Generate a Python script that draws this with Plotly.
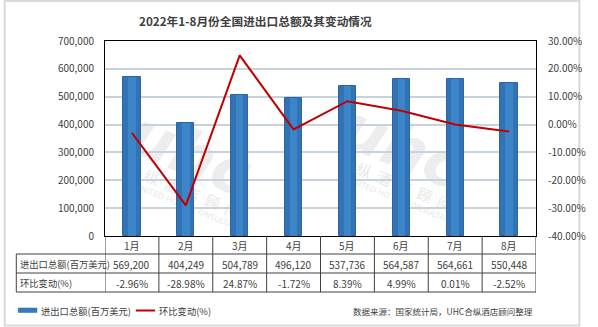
import plotly.graph_objects as go

# ---------------- data ----------------
months = ["1月", "2月", "3月", "4月", "5月", "6月", "7月", "8月"]
totals = [569200, 404249, 504789, 496120, 537736, 564587, 564661, 550448]
mom_pct = [-2.96, -28.98, 24.87, -1.72, 8.39, 4.99, 0.01, -2.52]
bar_name = "进出口总额(百万美元)"
line_name = "环比变动(%)"
title_text = "2022年1-8月份全国进出口总额及其变动情况"
source_text = "数据来源：国家统计局，UHC合纵酒店顾问整理"
left_ticks = [0, 100000, 200000, 300000, 400000, 500000, 600000, 700000]
left_labels = ["0", "100,000", "200,000", "300,000", "400,000", "500,000", "600,000", "700,000"]
right_ticks = [-40, -30, -20, -10, 0, 10, 20, 30]
right_labels = ["-40.00%", "-30.00%", "-20.00%", "-10.00%", "0.00%", "10.00%", "20.00%", "30.00%"]

# ---------------- layout helpers ----------------
W, H = 598, 327
L, R, T, B = 105, 46, 41, 91
PW, PH = W - L - R, H - T - B
FONT = "Noto Sans CJK SC, Noto Sans, sans-serif"
TXT = "#404040"


def px(x):
    return (x - L) / PW


def py(y):
    return (H - B - y) / PH


xs = list(range(len(months)))

fig = go.Figure()
fig.add_trace(go.Bar(
    x=xs, y=totals, name=bar_name, width=0.32,
    marker=dict(color="#3173B4", line=dict(color="#2C66A2", width=1)),
    showlegend=False, yaxis="y"))
fig.add_trace(go.Bar(
    x=xs, y=totals, name=bar_name, width=0.14,
    marker=dict(color="#3C85C8", line=dict(width=0)),
    showlegend=False, yaxis="y", hoverinfo="skip"))
fig.add_trace(go.Scatter(
    x=xs, y=mom_pct, name=line_name, mode="lines",
    line=dict(color="#C00000", width=2),
    showlegend=False, yaxis="y2"))

shapes = []
annotations = []

# title
annotations.append(dict(text="<b>" + title_text + "</b>", xref="paper", yref="paper",
                        x=px(261), y=py(21), xanchor="center", yanchor="middle",
                        showarrow=False, font=dict(family=FONT, size=11.7, color="#404040")))

# outer frame of the image
shapes.append(dict(type="rect", xref="paper", yref="paper",
                   x0=px(1), x1=px(597), y0=py(1), y1=py(325.5),
                   line=dict(color="#D9D9D9", width=2), fillcolor="rgba(0,0,0,0)", layer="below"))

# watermark (behind bars)
for cx, cy in [(195, 150), (415, 143)]:
    shapes.append(dict(type="rect", xref="paper", yref="paper",
                       x0=px(cx - 5), x1=px(cx + 5), y0=py(cy + 5), y1=py(cy - 5),
                       line=dict(width=0), fillcolor="rgba(0,0,0,0)", layer="below",
                       label=dict(text="<b><i>uhc</i></b>", textangle=22,
                                  font=dict(family="DejaVu Sans", size=62, color="#EDEDED"))))
    shapes.append(dict(type="rect", xref="paper", yref="paper",
                       x0=px(cx - 5), x1=px(cx + 5), y0=py(cy + 50), y1=py(cy + 40),
                       line=dict(width=0), fillcolor="rgba(0,0,0,0)", layer="below",
                       label=dict(text="纵  酒  店  顾  问", textangle=22,
                                  font=dict(family=FONT, size=15, color="#E8E8E8"))))
    shapes.append(dict(type="rect", xref="paper", yref="paper",
                       x0=px(cx - 5), x1=px(cx + 5), y0=py(cy + 63), y1=py(cy + 53),
                       line=dict(width=0), fillcolor="rgba(0,0,0,0)", layer="below",
                       label=dict(text="UNITED HOTEL CONSULTANCY", textangle=22,
                                  font=dict(family="DejaVu Sans", size=8, color="#E8E8E8"))))

# data table
tbl_left = px(13)
row_lines = [254, 273, 292]
LINE_C = "#404040"
for yy in row_lines:
    shapes.append(dict(type="line", xref="paper", yref="paper", x0=tbl_left, x1=1,
                       y0=py(yy), y1=py(yy), line=dict(color=LINE_C, width=1)))
shapes.append(dict(type="line", xref="paper", yref="paper", x0=tbl_left, x1=tbl_left,
                   y0=py(254), y1=py(292), line=dict(color=LINE_C, width=1)))
for i in range(len(months) + 1):
    shapes.append(dict(type="line", xref="x", yref="paper", x0=i - 0.5, x1=i - 0.5,
                       y0=0, y1=py(292), line=dict(color=LINE_C, width=1)))

num_font = dict(family=FONT, size=10, color=TXT)
cjk_font = dict(family=FONT, size=9.3, color=TXT)
src_font = dict(family=FONT, size=8.5, color=TXT)
for i, m in enumerate(months):
    annotations.append(dict(text=m, xref="x", yref="paper", x=i, y=py(245.5),
                            xanchor="center", yanchor="middle", showarrow=False, font=num_font))
    annotations.append(dict(text=f"{totals[i]:,}", xref="x", yref="paper", x=i, y=py(264),
                            xanchor="center", yanchor="middle", showarrow=False, font=num_font))
    annotations.append(dict(text=f"{mom_pct[i]:.2f}%", xref="x", yref="paper", x=i, y=py(283),
                            xanchor="center", yanchor="middle", showarrow=False, font=num_font))
annotations.append(dict(text=bar_name, xref="paper", yref="paper", x=px(14.5), y=py(264),
                        xanchor="left", yanchor="middle", showarrow=False, font=cjk_font))
annotations.append(dict(text=line_name, xref="paper", yref="paper", x=px(14.5), y=py(283),
                        xanchor="left", yanchor="middle", showarrow=False, font=cjk_font))

# legend (manual)
shapes.append(dict(type="rect", xref="paper", yref="paper", x0=px(15), x1=px(34.5),
                   y0=py(312.5), y1=py(308), line=dict(color="#2D68A4", width=0.5),
                   fillcolor="#3679BA"))
shapes.append(dict(type="line", xref="paper", yref="paper", x0=px(137), x1=px(157),
                   y0=py(310.5), y1=py(310.5), line=dict(color="#C00000", width=2)))
annotations.append(dict(text=bar_name, xref="paper", yref="paper", x=px(36.5), y=py(310.5),
                        xanchor="left", yanchor="middle", showarrow=False, font=cjk_font))
annotations.append(dict(text=line_name, xref="paper", yref="paper", x=px(159), y=py(310.5),
                        xanchor="left", yanchor="middle", showarrow=False, font=cjk_font))
annotations.append(dict(text=source_text, xref="paper", yref="paper", x=px(551), y=py(310.5),
                        xanchor="right", yanchor="middle", showarrow=False, font=src_font))

fig.update_layout(
    width=W, height=H,
    margin=dict(l=L, r=R, t=T, b=B, pad=0),
    paper_bgcolor="white", plot_bgcolor="white",
    barmode="overlay", bargap=0,
    font=dict(family=FONT, size=10, color=TXT),
    xaxis=dict(range=[-0.5, len(months) - 0.5], showticklabels=False, ticks="",
               showgrid=False, zeroline=False, showline=True, mirror=True,
               linecolor="#000000", linewidth=1, fixedrange=True),
    yaxis=dict(range=[0, 700000], tickvals=left_ticks, ticktext=left_labels,
               showgrid=True, gridcolor="#C8D1DE", gridwidth=1.5, zeroline=False,
               showline=True, linecolor="#000000", linewidth=1, ticks="",
               ticklabelstandoff=8,
               tickfont=dict(family=FONT, size=10, color=TXT)),
    yaxis2=dict(range=[-40, 30], tickvals=right_ticks, ticktext=right_labels,
                overlaying="y", side="right", showgrid=False, zeroline=False,
                showline=True, linecolor="#000000", linewidth=1, ticks="",
                ticklabelstandoff=9,
                tickfont=dict(family=FONT, size=10, color=TXT)),
    shapes=shapes, annotations=annotations, showlegend=False,
)

fig.write_html("out.html")
